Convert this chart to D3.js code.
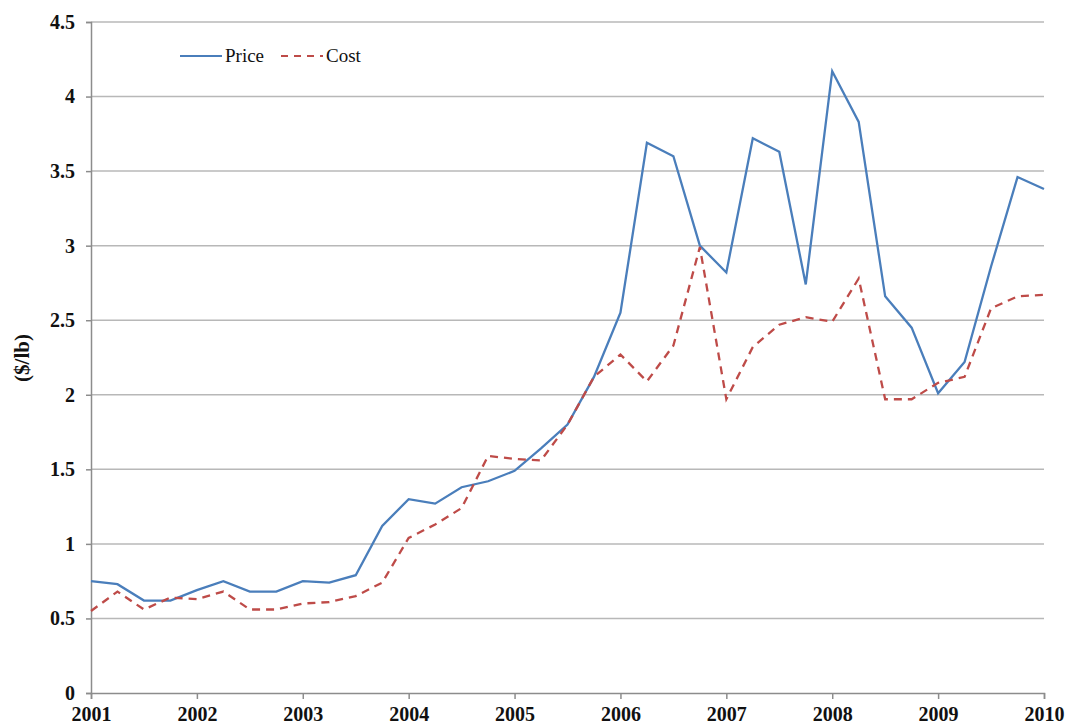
<!DOCTYPE html>
<html><head><meta charset="utf-8">
<script src="https://cdn.jsdelivr.net/npm/d3@7"></script>
<style>body{margin:0;background:#fff}svg{display:block}</style>
</head><body>
<svg id="chart" width="1066" height="725"></svg>
<script>
const quarters = d3.range(0, 37).map(i => 2001 + i * 0.25);
const price = [0.75,0.73,0.62,0.62,0.69,0.75,0.68,0.68,0.75,0.74,0.79,1.12,1.30,1.27,1.38,1.42,1.49,1.64,1.80,2.12,2.55,3.69,3.60,3.00,2.82,3.72,3.63,2.74,4.17,3.83,2.66,2.45,2.01,2.22,2.86,3.46,3.38];
const cost  = [0.55,0.68,0.56,0.64,0.63,0.68,0.56,0.56,0.60,0.61,0.65,0.74,1.04,1.13,1.24,1.59,1.57,1.56,1.80,2.12,2.27,2.09,2.33,2.99,1.97,2.32,2.47,2.52,2.49,2.78,1.97,1.97,2.08,2.12,2.58,2.66,2.67];
const yearTicks = d3.range(2001, 2011);
const yTicks = [0,0.5,1,1.5,2,2.5,3,3.5,4,4.5];
const seriesNames = ["Price","Cost"];
const colors = ["#4a7ebb","#be4b48"];

const svg = d3.select("#chart");
const L = 91, R = 1044, T = 22, B = 693;
const x = d3.scaleLinear().domain([2001, 2010]).range([L, R]);
const y = d3.scaleLinear().domain([0, 4.5]).range([B, T]);
const font = "'Liberation Serif','Times New Roman',serif";

// gridlines
svg.append("g").selectAll("line").data(yTicks.filter(d => d > 0)).join("line")
  .attr("x1", L).attr("x2", R).attr("y1", d => y(d)).attr("y2", d => y(d))
  .attr("stroke", "#b8b8b8").attr("stroke-width", 1.5);

// y axis
const yAx = svg.append("g").attr("transform", `translate(${L},0)`)
  .call(d3.axisLeft(y).tickValues(yTicks).tickSize(5).tickPadding(11).tickFormat(d3.format("")));
yAx.select(".domain").attr("stroke", "#8c8c8c").attr("stroke-width", 1.5);
yAx.selectAll(".tick line").attr("stroke", "#8c8c8c").attr("stroke-width", 1.5);
yAx.selectAll("text").attr("font-family", font).attr("font-weight", "bold").attr("font-size", 20).attr("fill", "#111");

// x axis
const xAx = svg.append("g").attr("transform", `translate(0,${B})`)
  .call(d3.axisBottom(x).tickValues(yearTicks).tickSize(6).tickPadding(8).tickFormat(d3.format("d")));
xAx.select(".domain").attr("stroke", "#8c8c8c").attr("stroke-width", 1.5);
xAx.selectAll(".tick line").attr("stroke", "#8c8c8c").attr("stroke-width", 1.5);
xAx.selectAll("text").attr("font-family", font).attr("font-weight", "bold").attr("font-size", 20).attr("fill", "#111");

// y label
svg.append("text").attr("transform", `translate(29,358) rotate(-90)`)
  .attr("text-anchor", "middle").attr("font-family", font).attr("font-weight", "bold")
  .attr("font-size", 21).attr("fill", "#111").text("($/lb)");

const line = d3.line().x((d, i) => x(quarters[i])).y(d => y(d));
svg.append("path").datum(price).attr("d", line).attr("fill", "none")
  .attr("stroke", colors[0]).attr("stroke-width", 2.3).attr("stroke-linejoin", "miter");
svg.append("path").datum(cost).attr("d", line).attr("fill", "none")
  .attr("stroke", colors[1]).attr("stroke-width", 2.3).attr("stroke-dasharray", "8,6");

// legend
const lg = svg.append("g");
[[180, 0], [281, 1]].forEach(([lx, i]) => {
  lg.append("line").attr("x1", lx).attr("x2", lx + 42).attr("y1", 56).attr("y2", 56)
    .attr("stroke", colors[i]).attr("stroke-width", 2).attr("stroke-dasharray", i ? "7,6" : null);
  lg.append("text").attr("x", lx + 45).attr("y", 62).attr("font-family", font)
    .attr("font-size", 19).attr("fill", "#111").text(seriesNames[i]);
});
</script>
</body></html>
